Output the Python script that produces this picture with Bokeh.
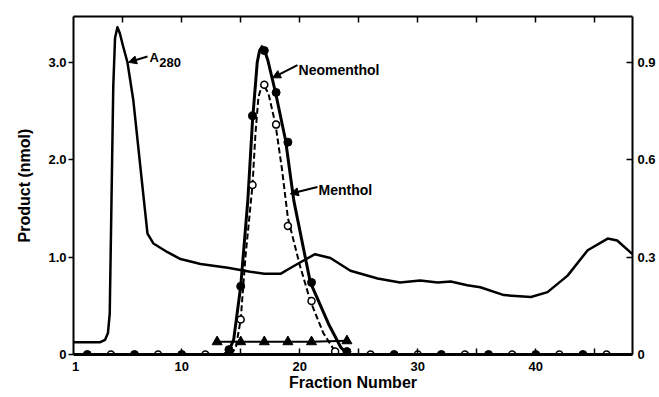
from bokeh.plotting import figure
from bokeh.models import (Range1d, LinearAxis, FixedTicker, CustomJSTickFormatter,
                          Label, Arrow, NormalHead)
from bokeh.embed import file_html
from bokeh.resources import INLINE

# ---------------- data ----------------
# A280 absorbance trace (right axis)
a280_frac = [0.85, 3.1, 3.5, 3.75, 3.9, 4.05, 4.2, 4.35, 4.55, 4.75, 5.0, 5.4, 5.9, 6.8,
             7.1, 7.6, 8.8, 9.9, 11.6, 13.9, 15.8, 17.0, 18.4, 19.1, 20.1, 21.3, 22.6,
             24.3, 26.6, 28.5, 30.2, 31.7, 32.8, 34.2, 35.3, 37.3, 39.6, 41.0, 42.7,
             44.4, 46.1, 46.9, 48.2]
a280_abs = [0.038, 0.038, 0.045, 0.066, 0.126, 0.474, 0.825, 0.975, 1.008, 0.99, 0.954,
            0.9, 0.783, 0.474, 0.372, 0.342, 0.315, 0.294, 0.279, 0.267, 0.255, 0.249,
            0.249, 0.264, 0.285, 0.309, 0.297, 0.258, 0.234, 0.222, 0.228, 0.222, 0.225,
            0.213, 0.207, 0.183, 0.177, 0.192, 0.243, 0.321, 0.357, 0.351, 0.309]

# Neomenthol (filled circles) and its drawn curve
neo_frac = [2, 6, 10, 14, 15, 16, 17, 18, 19, 21, 24, 28, 32, 36, 40, 44]
neo_nmol = [0, 0, 0, 0.05, 0.70, 2.45, 3.12, 2.69, 2.18, 0.74, 0.03, 0, 0, 0, 0, 0]
neo_curve_frac = [13.6, 14.0, 14.4, 15.0, 15.6, 16.0, 16.4, 16.6, 16.8, 17.0, 17.3,
                  17.95, 18.8, 19.5, 20.9, 22.5, 23.5, 24.1]
neo_curve_nmol = [0.0, 0.04, 0.15, 0.70, 1.58, 2.40, 3.0, 3.12, 3.16, 3.13, 3.02,
                  2.69, 2.2, 1.58, 0.74, 0.3, 0.07, 0.0]

# Menthol (open circles) and its dashed curve
men_frac = [4, 8, 12, 15, 16, 17, 18, 19, 21, 23, 26, 30, 34, 38, 42, 46]
men_nmol = [0, 0, 0, 0.36, 1.74, 2.77, 2.36, 1.32, 0.55, 0.03, 0, 0, 0, 0, 0, 0]
men_curve_frac = [14.2, 14.6, 15.0, 15.4, 16.0, 16.25, 16.5, 16.85, 17.35, 17.95,
                  18.5, 19.0, 20.0, 20.9, 22.0, 23.0, 23.3]
men_curve_nmol = [0.0, 0.08, 0.36, 1.0, 1.74, 2.27, 2.64, 2.79, 2.68, 2.36,
                  1.9, 1.4, 0.92, 0.55, 0.22, 0.03, 0.0]

# Third product (filled triangles)
tri_frac = [13, 15, 17, 19, 21, 24]
tri_nmol = [0.13, 0.13, 0.13, 0.13, 0.13, 0.14]

# axis ticks
x_label_ticks = [1, 10, 20, 30, 40]
x_minor_ticks = [10, 15, 20, 25, 30, 35, 40, 45]
top_ticks = [5, 10, 15, 20, 25, 30, 35, 40, 45]
left_ticks = [0, 1, 2, 3]
right_ticks = [0, 0.3, 0.6, 0.9]

FONT = "Liberation Sans"
INK = "black"

p = figure(width=658, height=396, output_backend="svg", toolbar_location=None,
           x_range=Range1d(0.83, 48.2), y_range=Range1d(0, 3.47),
           min_border_left=73, min_border_top=16, min_border_right=26, min_border_bottom=42,
           x_axis_location=None, y_axis_location=None)
p.extra_y_ranges = {"right": Range1d(0, 1.041)}
p.grid.visible = False
p.outline_line_color = None
p.background_fill_color = "white"
p.border_fill_color = "white"

fmt = CustomJSTickFormatter(code="return tick == 0 ? '0' : tick.toFixed(1);")

def style_labels(ax):
    ax.major_label_text_font = FONT
    ax.major_label_text_font_style = "bold"
    ax.major_label_text_font_size = "13px"
    ax.major_label_text_color = INK
    ax.axis_line_color = INK
    ax.major_tick_line_color = INK
    ax.minor_tick_line_color = INK
    ax.axis_label_text_font = FONT
    ax.axis_label_text_font_style = "bold"
    ax.axis_label_text_font_size = "16px"
    ax.axis_label_text_color = INK

# bottom axis
xb = LinearAxis(ticker=FixedTicker(ticks=x_label_ticks, minor_ticks=x_minor_ticks),
                axis_label="Fraction Number")
style_labels(xb)
xb.axis_line_width = 3
xb.major_tick_in = 0
xb.major_tick_out = 0
xb.minor_tick_in = 6
xb.minor_tick_out = 0
xb.minor_tick_line_width = 1.5
xb.major_label_standoff = 7
xb.axis_label_standoff = 0
p.add_layout(xb, "below")

# top axis (ticks only, no labels)
xt = LinearAxis(ticker=FixedTicker(ticks=top_ticks),
                formatter=CustomJSTickFormatter(code="return '';"))
style_labels(xt)
xt.axis_line_width = 2
xt.major_tick_in = 6
xt.major_tick_out = 0
xt.major_tick_line_width = 1.5
xt.major_label_standoff = 0
p.add_layout(xt, "above")

# left axis
yl = LinearAxis(ticker=FixedTicker(ticks=left_ticks), formatter=fmt,
                axis_label="Product (nmol)")
style_labels(yl)
yl.axis_line_width = 2
yl.major_tick_in = 0
yl.major_tick_out = 5
yl.major_tick_line_width = 1.5
yl.major_label_standoff = 2
yl.axis_label_standoff = 12
p.add_layout(yl, "left")

# right axis (A280)
yr = LinearAxis(y_range_name="right", ticker=FixedTicker(ticks=right_ticks), formatter=fmt)
style_labels(yr)
yr.axis_line_width = 2
yr.major_tick_in = 6
yr.major_tick_out = 0
yr.major_tick_line_width = 1.5
yr.major_label_standoff = 5
p.add_layout(yr, "right")

# A280 trace
p.line(a280_frac, a280_abs, y_range_name="right", line_color=INK, line_width=2.5,
       line_join="round")

# triangles series
p.line(tri_frac, tri_nmol, line_color=INK, line_width=2)
p.scatter(tri_frac, tri_nmol, marker="triangle", size=10, fill_color=INK, line_color=INK)

# neomenthol curve and points
p.line(neo_curve_frac, neo_curve_nmol, line_color=INK, line_width=3, line_join="round")
p.scatter(neo_frac, neo_nmol, marker="circle", size=8, fill_color=INK, line_color=INK)

# menthol dashed curve and points
p.line(men_curve_frac, men_curve_nmol, line_color=INK, line_width=2,
       line_dash="6 3", line_join="round")
p.scatter(men_frac, men_nmol, marker="circle", size=7, fill_color="white",
          line_color=INK, line_width=1.5)

# annotations
lab_kw = dict(text_font=FONT, text_font_style="bold", text_color=INK,
              text_baseline="alphabetic", text_align="left")
p.add_layout(Label(x=7.27, y=3.05, text="A", text_font_size="13px", **lab_kw))
p.add_layout(Label(x=8.1, y=3.0, text="280", text_font_size="13px", **lab_kw))
p.add_layout(Label(x=19.9, y=2.92, text="Neomenthol", text_font_size="14px", **lab_kw))
p.add_layout(Label(x=21.6, y=1.69, text="Menthol", text_font_size="14px", **lab_kw))

for xs, ys, xe, ye in [(7.1, 3.06, 5.49, 3.0), (19.81, 2.97, 17.69, 2.84),
                       (21.5, 1.72, 19.2, 1.65)]:
    p.add_layout(Arrow(x_start=xs, y_start=ys, x_end=xe, y_end=ye, line_width=2,
                       line_color=INK,
                       end=NormalHead(size=8, fill_color=INK, line_color=INK)))

open("out.html", "w").write(file_html(p, INLINE))
